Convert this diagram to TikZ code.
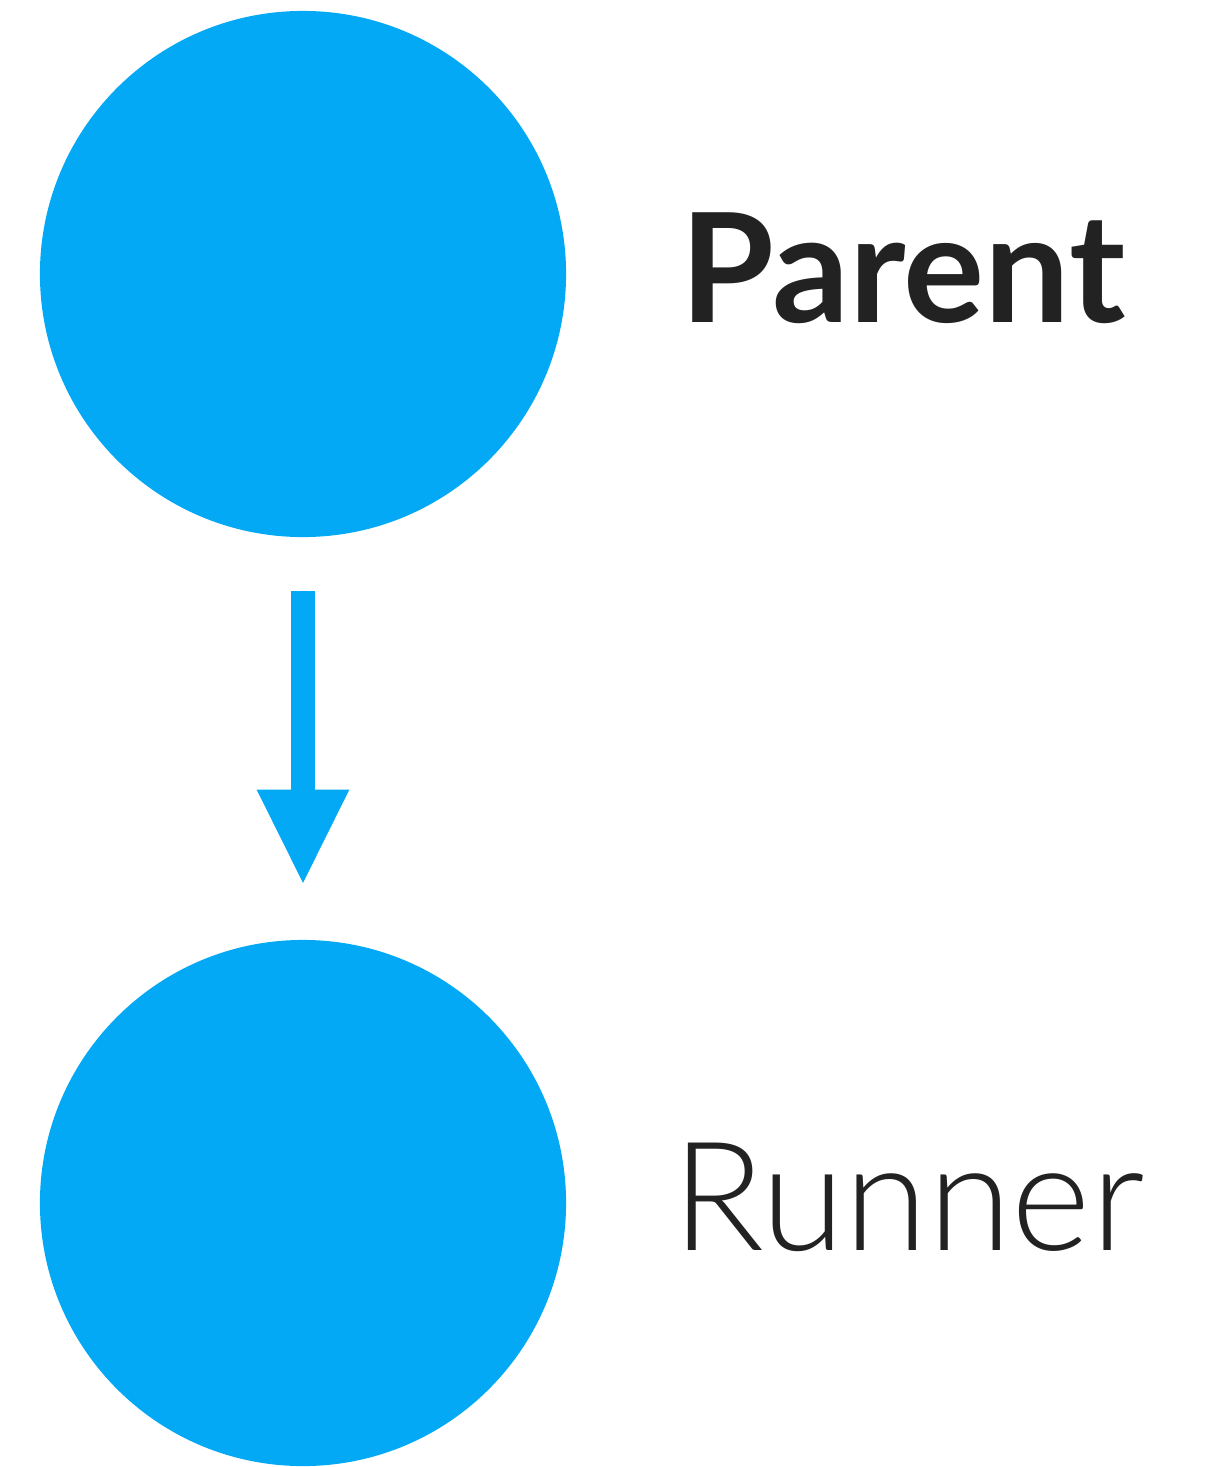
\documentclass[tikz,border=0pt]{standalone}
\usepackage{fontspec}
\setmainfont{Lato}
\newfontfamily\runnerfont{Lato Light}
\usetikzlibrary{arrows.meta,positioning}
\definecolor{lightblue}{HTML}{03A9F4}
\definecolor{darktext}{HTML}{222222}
\tikzset{
  dot/.style={circle, fill=lightblue, draw=none, minimum size=13.15cm, inner sep=0pt},
  label/.style={anchor=base west, inner sep=0pt, text=darktext, font=\fontsize{108}{120}\selectfont},
  flow/.style={draw=lightblue, line width=0.6cm, -{Triangle[width=2.12cm, length=2.4cm]},
    shorten <=1.35cm, shorten >=1.35cm}
}
\begin{document}
\begin{tikzpicture}[x=0.025cm, y=-0.025cm]
\useasboundingbox (0,0) rectangle (1204,1467);

%draw the two circles
\node[dot] (parent) at (303,274) {};
\node[dot] (runner) at (303,1203) {};

%draw the labels
\node[label] (parentlabel) at (680,322) {\bfseries Parent};
\node[label] (runnerlabel) at (672,1250) {\runnerfont Runner};

%draw the arrow
\draw[flow] (parent) -- (runner);
\end{tikzpicture}
\end{document}
